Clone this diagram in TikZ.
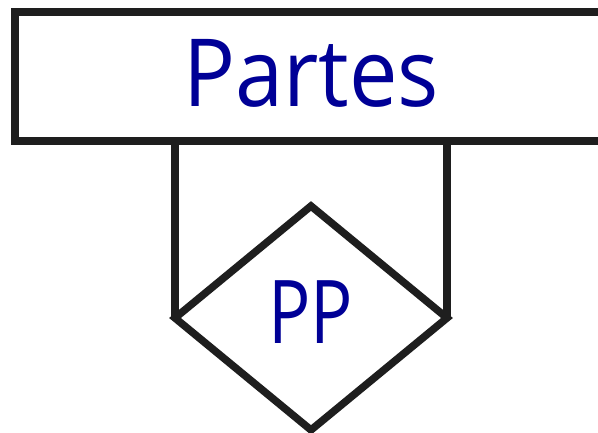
\documentclass[tikz,border=0pt]{standalone}
\usepackage{fontspec}
\usepackage{graphicx}
\setmainfont{Open Sans}
\usetikzlibrary{shapes.geometric}
\definecolor{ink}{RGB}{30,30,30}
\definecolor{txt}{RGB}{0,0,150}
\tikzset{
  x=1pt,y=1pt,
  erline/.style={draw=ink,line width=7.5pt},
  entity/.style={erline,rectangle,inner sep=0pt,outer sep=0pt,minimum width=605pt,minimum height=129pt},
  relation/.style={erline,diamond,inner sep=0pt,outer sep=0pt,shape aspect=1.214,minimum width=272pt,minimum height=224pt},
  label/.style={text=txt,inner sep=0pt,anchor=base}
}
\begin{document}
\begin{tikzpicture}
\useasboundingbox (0,0) rectangle (598,432);
\node[entity] (ent) at (317.5,355.5) {};
\node[label] (enttxt) at (311,325) {\fontsize{94}{100}\selectfont\scalebox{0.92}[1]{Partes}};
\node[relation] (rel) at (311,114) {};
\node[label] (reltxt) at (311,89) {\fontsize{88}{94}\selectfont\scalebox{0.8}[1]{PP}};
\draw[erline] (rel.west) -- (rel.west |- ent.south);
\draw[erline] (rel.east) -- (rel.east |- ent.south);
\end{tikzpicture}
\end{document}
